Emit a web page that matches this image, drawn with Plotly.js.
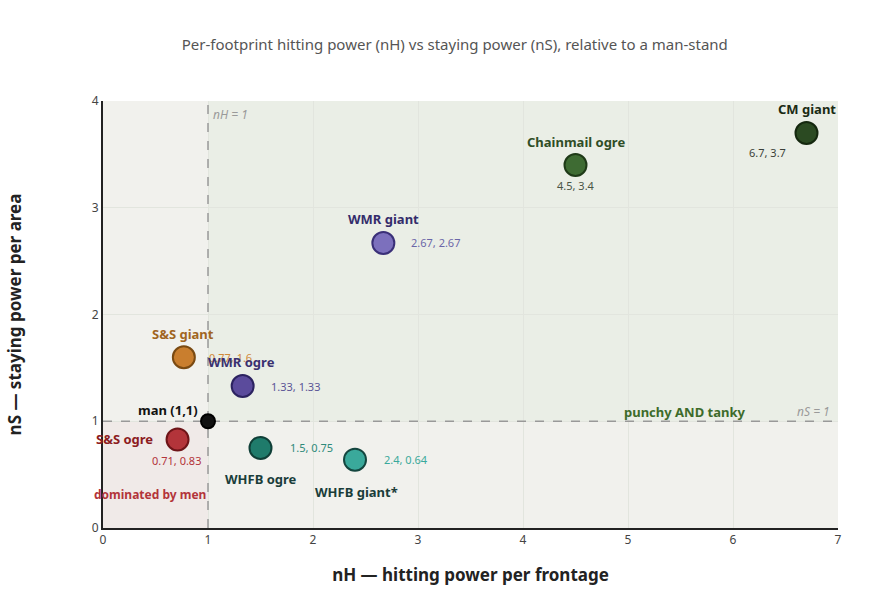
<!DOCTYPE html>
<html>
<head>
<meta charset="utf-8">
<script src="https://cdn.plot.ly/plotly-3.0.1.min.js"></script>
<style>html,body{margin:0;padding:0;background:#fff;}#chart{width:890px;height:598px;}</style>
</head>
<body>
<div id="chart"></div>
<script>
// ---- data ----
const names = ["CM giant", "Chainmail ogre", "WMR giant", "S&S giant", "WMR ogre", "man (1,1)", "S&S ogre", "WHFB ogre", "WHFB giant*"];
const nH = [6.7, 4.5, 2.67, 0.77, 1.33, 1, 0.71, 1.5, 2.4];
const nS = [3.7, 3.4, 2.67, 1.6, 1.33, 1, 0.83, 0.75, 0.64];
const valueLabels = ["6.7, 3.7", "4.5, 3.4", "2.67, 2.67", "0.77, 1.6", "1.33, 1.33", "", "0.71, 0.83", "1.5, 0.75", "2.4, 0.64"];
const xTicks = [0, 1, 2, 3, 4, 5, 6, 7];
const yTicks = [0, 1, 2, 3, 4];

// ---- styles ----
const fillColors = ["#2b4a22", "#3e6b33", "#7c70bd", "#c97e2e", "#5b4b9c", "#111111", "#b3343a", "#1f7b6b", "#3aa99b"];
const lineColors = ["#15280f", "#1f3a18", "#3a2f78", "#7a4a12", "#2c2360", "#000000", "#6e1418", "#0f3f37", "#14463f"];
const nameColors = ["#1a2a14", "#2f4d26", "#342c6b", "#a0651f", "#3a3170", "#111111", "#8c1c1f", "#1a3d3a", "#1a3d3a"];
const valueColors = ["#3a3f38", "#4a5546", "#6b66a8", "#d08a3a", "#5b5596", "#000", "#b3343a", "#2e8a7a", "#3aa99b"];
const sizes = [22, 22, 22, 22, 22, 14, 22, 22, 22];
// name label placement (anchor, pixel shift)
const nameAnchor = ["center", "center", "center", "center", "center", "right", "right", "center", "center"];
const nameDX = [0, 0, 0, -1, -1, -8, -23, 0, 1];
const nameDY = [24, 23, 24, 23, 24, 11, 0, -31, -32];
// value label placement
const valueAnchor = ["right", "center", "left", "left", "left", "left", "center", "left", "left"];
const valueDX = [-19, 0, 26, 23, 26, 0, -1, 27, 27];
const valueDY = [-19, -20, 0, 0, 0, 0, -21, 0, 0];

const FONT = "'Noto Sans', 'Open Sans', sans-serif";

const traces = [
  {
    type: "scatter", mode: "markers", x: nH, y: nS, text: names,
    marker: {size: sizes, color: fillColors, opacity: 1, line: {width: 2, color: lineColors}},
    hovertemplate: "%{text}: %{x}, %{y}<extra></extra>",
    showlegend: false, cliponaxis: false
  }
];

const valueAnns = nH.map((x, i) => ({
  xref: "x", yref: "y", x: x, y: nS[i], text: valueLabels[i], showarrow: false,
  xanchor: valueAnchor[i], yanchor: "middle", xshift: valueDX[i], yshift: valueDY[i],
  font: {family: FONT, size: 11, color: valueColors[i]}
})).filter(a => a.text !== "");

const nameAnns = nH.map((x, i) => ({
  xref: "x", yref: "y", x: x, y: nS[i], text: "<b>" + names[i] + "</b>", showarrow: false,
  xanchor: nameAnchor[i], yanchor: "middle", xshift: nameDX[i], yshift: nameDY[i],
  font: {family: FONT, size: 13, color: nameColors[i]}
}));

const layout = {
  width: 890, height: 598,
  margin: {l: 103, r: 52, t: 101, b: 70},
  paper_bgcolor: "#ffffff",
  plot_bgcolor: "#f1f1ed",
  font: {family: FONT, color: "#444"},
  title: {text: "Per-footprint hitting power (nH) vs staying power (nS), relative to a man-stand",
          font: {family: FONT, size: 15, color: "#555"}, x: 0.511, xanchor: "center", y: 0.926, yanchor: "middle"},
  xaxis: {
    range: [0, 7], tickvals: xTicks, ticktext: xTicks.map(String),
    showgrid: true, gridcolor: "#e2e5de", zeroline: false,
    showline: true, linecolor: "#222", linewidth: 2,
    ticks: "", tickfont: {family: FONT, size: 12, color: "#444"},
    title: {text: "<b>nH — hitting power per frontage</b>", font: {family: FONT, size: 17, color: "#222"}, standoff: 22}
  },
  yaxis: {
    range: [0, 4], tickvals: yTicks, ticktext: yTicks.map(String),
    showgrid: true, gridcolor: "#e2e5de", zeroline: false,
    showline: true, linecolor: "#222", linewidth: 2,
    ticks: "", tickfont: {family: FONT, size: 12, color: "#444"},
    title: {text: "<b>nS — staying power per area</b>", font: {family: FONT, size: 17, color: "#222"}, standoff: 66}
  },
  shapes: [
    {type: "rect", xref: "x", yref: "y", x0: 0, x1: 1, y0: 0, y1: 1, fillcolor: "rgba(240,120,150,0.05)", line: {width: 0}, layer: "below"},
    {type: "rect", xref: "x", yref: "y", x0: 1, x1: 7, y0: 1, y1: 4, fillcolor: "rgba(120,195,110,0.05)", line: {width: 0}, layer: "below"},
    {type: "line", xref: "x", yref: "y", x0: 1, x1: 1, y0: 0, y1: 4, line: {color: "#999999", width: 1.5, dash: "dash"}, layer: "between"},
    {type: "line", xref: "x", yref: "y", x0: 0, x1: 7, y0: 1, y1: 1, line: {color: "#999999", width: 1.5, dash: "dash"}, layer: "between"}
  ],
  annotations: [
    {xref: "x", yref: "y", x: 1, y: 4, text: "<i>nH = 1</i>", showarrow: false, xanchor: "left", yanchor: "top", xshift: 3, yshift: -3, font: {family: FONT, size: 12, color: "#9a9a9a"}},
    {xref: "x", yref: "y", x: 7, y: 1, text: "<i>nS = 1</i>", showarrow: false, xanchor: "right", yanchor: "bottom", xshift: -6, yshift: -1, font: {family: FONT, size: 12, color: "#9a9a9a"}},
    {xref: "x", yref: "y", x: 5.54, y: 1, text: "<b>punchy AND tanky</b>", showarrow: false, xanchor: "center", yanchor: "bottom", yshift: -2, font: {family: FONT, size: 13, color: "#3d6b2a"}},
    {xref: "x", yref: "y", x: 0.45, y: 0.31, text: "<b>dominated by men</b>", showarrow: false, xanchor: "center", yanchor: "middle", font: {family: FONT, size: 12, color: "#b3343a"}}
  ].concat(valueAnns, nameAnns)
};

Plotly.newPlot("chart", traces, layout, {displayModeBar: false, responsive: false});
</script>
</body>
</html>
